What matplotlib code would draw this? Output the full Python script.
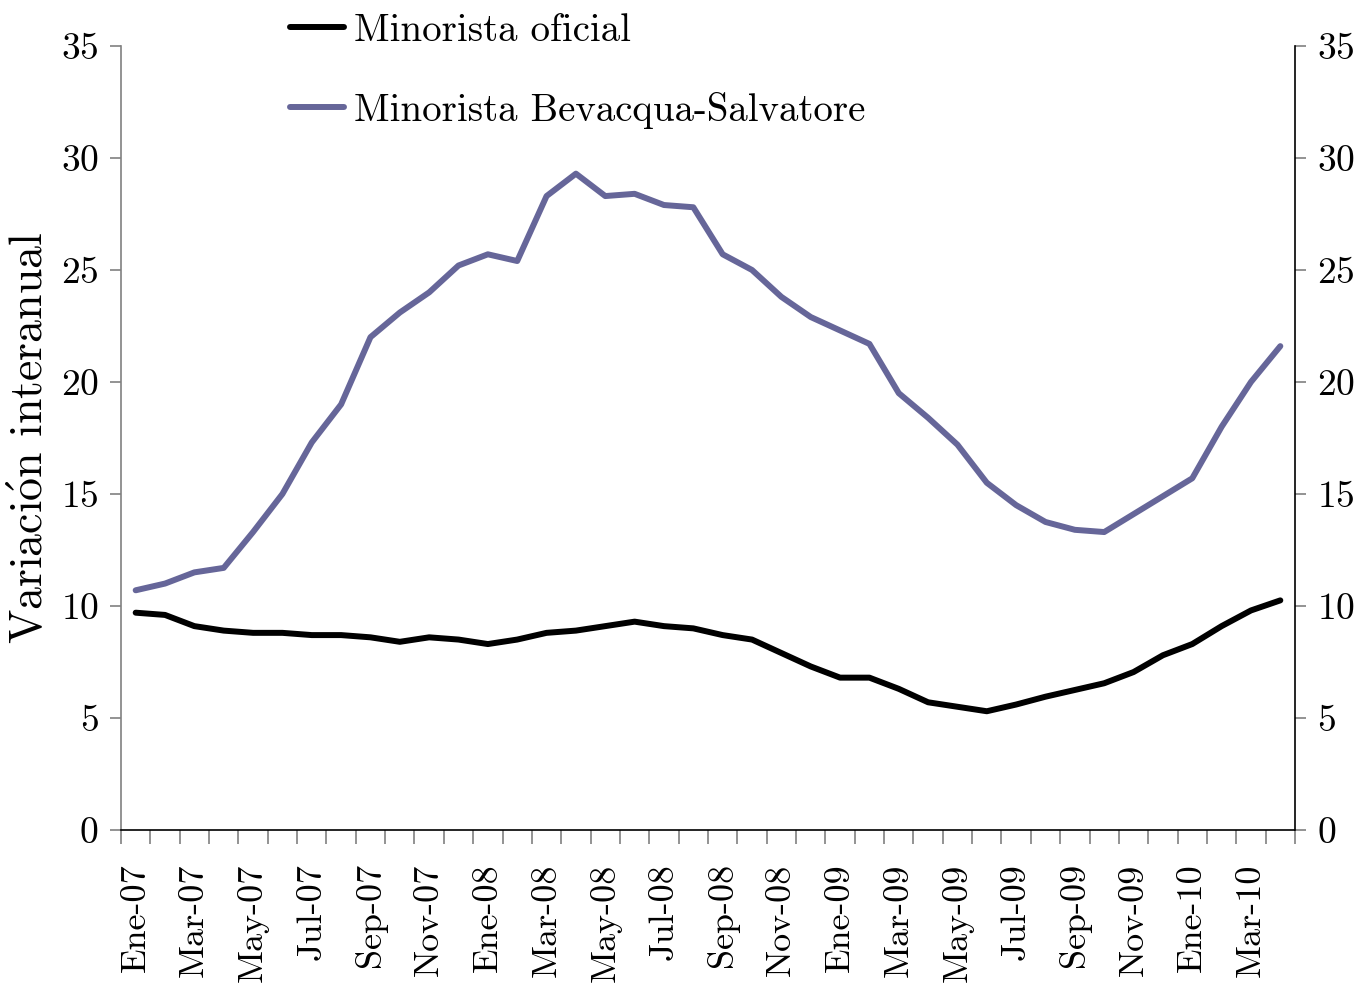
import numpy as np
from matplotlib import pyplot as plt

meses = ["Ene", "Feb", "Mar", "Abr", "May", "Jun", "Jul", "Ago", "Sep", "Oct", "Nov", "Dic"]
fechas = [f"{m}-{a:02d}" for a in (7, 8, 9, 10) for m in meses][:40]

oficial = [9.7, 9.6, 9.1, 8.9, 8.8, 8.8, 8.7, 8.7, 8.6, 8.4,
           8.6, 8.5, 8.3, 8.5, 8.8, 8.9, 9.1, 9.3, 9.1, 9.0,
           8.7, 8.5, 7.9, 7.3, 6.8, 6.8, 6.3, 5.7, 5.5, 5.3,
           5.6, 5.95, 6.25, 6.55, 7.05, 7.8, 8.3, 9.1, 9.8, 10.25]
bevacqua = [10.7, 11.0, 11.5, 11.7, 13.3, 15.0, 17.3, 19.0, 22.0, 23.1,
            24.0, 25.2, 25.7, 25.4, 28.3, 29.3, 28.3, 28.4, 27.9, 27.8,
            25.7, 25.0, 23.8, 22.9, 22.3, 21.7, 19.5, 18.4, 17.2, 15.5,
            14.5, 13.75, 13.4, 13.3, 14.1, 14.9, 15.7, 18.0, 20.0, 21.6]

plt.rcParams['font.family'] = ['cmr10', 'DejaVu Serif']
plt.rcParams['mathtext.fontset'] = 'cm'
plt.rcParams['axes.formatter.use_mathtext'] = True

fig = plt.figure(figsize=(13.61, 9.91), dpi=100)
ax = fig.add_axes([0.0889, 0.1625, 0.8626, 0.7911])

x = np.arange(len(fechas))
l1, = ax.plot(x, oficial, color="black", lw=4.3, solid_capstyle="round")
l2, = ax.plot(x, bevacqua, color="#666699", lw=4.3, solid_capstyle="round")

ax.set_xlim(-0.5, len(fechas) - 0.5)
ax.set_ylim(0, 35)
ax.set_yticks(range(0, 36, 5))
ax.set_xticks(np.arange(len(fechas) + 1) - 0.5, minor=False)
ax.set_xticklabels([])
ax.set_xticks(x[::2], minor=True)
ax.set_xticklabels(fechas[::2], minor=True, rotation=90, fontsize=26)
ax.tick_params(axis="x", which="minor", length=0, pad=24)
ax.tick_params(axis="x", which="major", length=10, width=1.2, color="#808080", direction="out")
ax.tick_params(axis="y", length=8, width=1.2, color="#808080", labelsize=27, pad=8)

ax.spines["top"].set_visible(False)
ax.spines["right"].set_visible(False)
ax.spines["left"].set_color("#808080")
ax.spines["left"].set_linewidth(1.2)
ax.spines["bottom"].set_linewidth(1.2)

ax2 = ax.twinx()
ax2.set_ylim(0, 35)
ax2.set_yticks(range(0, 36, 5))
ax2.tick_params(axis="y", length=8, width=1.2, color="#808080", labelsize=27, pad=8)
for s in ("top", "left", "bottom"):
    ax2.spines[s].set_visible(False)
ax2.spines["right"].set_linewidth(1.2)

ax.set_ylabel(r"Variaci$\mathrm{\acute{o}}$n interanual", fontsize=33, labelpad=6)

fig.legend([l1, l2], ["Minorista oficial", "Minorista Bevacqua-Salvatore"],
           loc="upper left", bbox_to_anchor=(0.187, 1.022), frameon=False,
           fontsize=28, handlelength=1.4, handletextpad=0.25, labelspacing=1.1)

fig.savefig("out.png", dpi=100)
